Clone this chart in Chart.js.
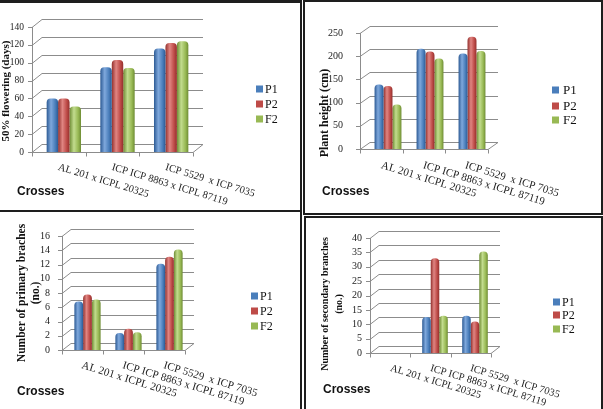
<!DOCTYPE html>
<html>
<head>
<meta charset="utf-8">
<script src="https://cdn.jsdelivr.net/npm/chart.js@4/dist/chart.umd.min.js"></script>
<style>
  body { margin: 0; background: #fff; }
  #page { position: relative; width: 603px; height: 409px; overflow: hidden; background: #fff; }
  .box { position: absolute; box-sizing: border-box; border: 2px solid #1e1e1e; }
  canvas { position: absolute; }
</style>
</head>
<body>
<div id="page">
  <div class="box" style="left:-4px;top:0;width:306px;height:212px;border-top-width:3px"></div>
  <div class="box" style="left:303px;top:0;width:300px;height:215px"></div>
  <div class="box" style="left:-4px;top:210px;width:306px;height:210px"></div>
  <div class="box" style="left:304px;top:216px;width:299px;height:200px"></div>
  <canvas id="c1" width="300" height="206" style="left:0;top:3px"></canvas>
  <canvas id="c2" width="295" height="209" style="left:305px;top:3px"></canvas>
  <canvas id="c3" width="300" height="196" style="left:0;top:213px"></canvas>
  <canvas id="c4" width="294" height="190" style="left:306px;top:219px"></canvas>
</div>
<script>
// data
const crosses = ['AL 201 x ICPL 20325', 'ICP ICP 8863 x ICPL 87119', 'ICP 5529  x ICP 7035'];
const seriesNames = ['P1', 'P2', 'F2'];

const floweringP1 = [60, 95, 116];
const floweringP2 = [60, 103, 122];
const floweringF2 = [51, 94, 124];

const heightP1 = [139, 216, 206];
const heightP2 = [136, 210, 242];
const heightF2 = [96, 195, 211];

const primaryP1 = [6.8, 2.4, 12.1];
const primaryP2 = [7.8, 3.0, 13.1];
const primaryF2 = [7.1, 2.5, 14.1];

const secondaryP1 = [0, 12.5, 13];
const secondaryP2 = [0, 33, 11];
const secondaryF2 = [0, 13, 35.3];

const SERIF = "'Liberation Serif', 'Times New Roman', serif";
const SANS = "'Liberation Sans', Arial, sans-serif";

// office 2007 colours: [dark edge, highlight, base]
const colours = [
  ['#2c5a94', '#7fa8dc', '#4a7ebb'],
  ['#93302d', '#e08582', '#be4b48'],
  ['#6e8c34', '#c2dc8e', '#98b954']
];
const CAT_PCT = 0.64;


// 3d-ish frame, legend, titles and slanted category labels
const decor = {
  id: 'decor',
  beforeDatasetsDraw(chart, args, o) {
    const ctx = chart.ctx;
    const ys = chart.scales.y;
    const { bottom } = chart.chartArea;
    const f = o.frame;
    ctx.save();
    ctx.lineWidth = 1;
    ctx.strokeStyle = '#8c8c8c';
    for (const t of ys.ticks) {
      const y = Math.round(ys.getPixelForValue(t.value)) + 0.5;
      ctx.beginPath();
      ctx.moveTo(f.frontX - 4, y);
      ctx.lineTo(f.frontX, y);
      if (t.value !== 0) {
        ctx.lineTo(f.frontX + f.dx, y - f.dy);
        ctx.lineTo(f.backRight, y - f.dy);
      }
      ctx.stroke();
    }
    // front axis
    ctx.beginPath();
    ctx.moveTo(f.frontX + 0.5, Math.round(ys.getPixelForValue(ys.max)));
    ctx.lineTo(f.frontX + 0.5, Math.round(bottom) + 1);
    ctx.stroke();
    // floor
    const b = Math.round(bottom) + 0.5;
    ctx.beginPath();
    ctx.moveTo(f.frontX, b);
    ctx.lineTo(f.backRight - f.dx, b);
    ctx.lineTo(f.backRight, b - f.dy);
    ctx.lineTo(f.frontX + f.dx, b - f.dy);
    ctx.closePath();
    ctx.stroke();
    // category ticks on the floor edge
    for (let i = 0; i <= crosses.length; i++) {
      const x = Math.round(f.frontX + i * (f.backRight - f.dx - f.frontX) / crosses.length) + 0.5;
      ctx.beginPath();
      ctx.moveTo(x, b);
      ctx.lineTo(x, b + 4);
      ctx.stroke();
    }
    ctx.restore();
  },
  afterDraw(chart, args, o) {
    const ctx = chart.ctx;
    const xs = chart.scales.x;
    const { bottom } = chart.chartArea;
    ctx.save();
    ctx.fillStyle = '#111';

    // y title
    ctx.font = 'bold ' + o.yTitle.size + 'px ' + SERIF;
    ctx.textAlign = 'center';
    ctx.textBaseline = 'middle';
    o.yTitle.lines.forEach((line, i) => {
      ctx.save();
      ctx.translate(o.yTitle.xs[i], o.yTitle.y);
      ctx.rotate(-Math.PI / 2);
      ctx.fillText(line, 0, 0);
      ctx.restore();
    });

    // slanted category labels
    ctx.font = o.xLabels.size + 'px ' + SERIF;
    ctx.textAlign = 'left';
    ctx.textBaseline = 'top';
    ctx.fillStyle = '#222';
    chart.data.labels.forEach((label, i) => {
      ctx.save();
      ctx.translate(xs.getPixelForValue(i) + o.xLabels.ox, bottom + o.xLabels.oy);
      ctx.rotate(17 * Math.PI / 180);
      ctx.fillText(label, 0, 0);
      ctx.restore();
    });

    // "Crosses"
    ctx.fillStyle = '#111';
    ctx.font = 'bold 12px ' + SANS;
    ctx.textBaseline = 'alphabetic';
    ctx.fillText('Crosses', o.crosses.x, o.crosses.y);

    // legend
    ctx.font = o.legend.size + 'px ' + SERIF;
    ctx.textBaseline = 'middle';
    chart.data.datasets.forEach((ds, i) => {
      const cy = o.legend.ys[i];
      ctx.fillStyle = colours[i][2];
      ctx.fillRect(o.legend.x, cy - 3.5, 7, 7);
      ctx.fillStyle = '#111';
      ctx.fillText(ds.label, o.legend.textX, cy + 0.5);
    });
    ctx.restore();
  }
};


function barFill(i) {
  return (c) => {
    const chart = c.chart;
    const xs = chart.scales.x;
    if (!xs || !chart.chartArea || c.dataIndex === undefined) return colours[i][2];
    const catW = (xs.right - xs.left) / crosses.length;
    const bw = catW * CAT_PCT / seriesNames.length;
    const cx = xs.getPixelForValue(c.dataIndex) + (i - 1) * bw;
    const g = chart.ctx.createLinearGradient(cx - bw / 2, 0, cx + bw / 2, 0);
    g.addColorStop(0, colours[i][0]);
    g.addColorStop(0.38, colours[i][1]);
    g.addColorStop(0.75, colours[i][2]);
    g.addColorStop(1, colours[i][0]);
    return g;
  };
}


function makeChart(id, p) {
  const canvas = document.getElementById(id);
  return new Chart(canvas.getContext('2d'), {
    type: 'bar',
    data: {
      labels: crosses,
      datasets: p.series.map((values, i) => ({
        label: seriesNames[i],
        data: values,
        backgroundColor: barFill(i),
        borderWidth: 0,
        borderRadius: { topLeft: 4, topRight: 4 },
        borderSkipped: 'start',
        barPercentage: 1,
        categoryPercentage: CAT_PCT
      }))
    },
    options: {
      responsive: false,
      animation: false,
      devicePixelRatio: 1,
      layout: {
        padding: {
          left: 0,
          top: p.area.top,
          right: canvas.width - p.area.right,
          bottom: canvas.height - p.area.bottom
        }
      },
      scales: {
        x: {
          ticks: { display: false },
          grid: { display: false, drawTicks: false },
          border: { display: false },
          afterFit: (s) => { s.height = 0; }
        },
        y: {
          min: 0,
          max: p.max,
          ticks: {
            stepSize: p.step,
            autoSkip: false,
            padding: p.tickPad,
            color: '#222',
            font: { family: SERIF, size: p.tickSize }
          },
          grid: { display: false, drawTicks: false },
          border: { display: false },
          afterFit: (s) => { s.width = p.area.left; }
        }
      },
      plugins: {
        legend: { display: false },
        tooltip: { enabled: false },
        decor: p.decor
      }
    },
    plugins: [decor]
  });
}


makeChart('c1', {
  series: [floweringP1, floweringP2, floweringF2],
  max: 140, step: 20, tickPad: 13, tickSize: 9.5,
  area: { left: 37, right: 198, top: 24, bottom: 149 },
  decor: {
    frame: { frontX: 32, backRight: 203, dx: 10, dy: 8 },
    yTitle: { lines: ['50% flowering (days)'], xs: [6], y: 88, size: 11 },
    xLabels: { size: 10.5, ox: -4, oy: 10 },
    crosses: { x: 17, y: 192 },
    legend: { x: 256, textX: 265, ys: [86, 101, 116], size: 12 }
  }
});

makeChart('c2', {
  series: [heightP1, heightP2, heightF2],
  max: 250, step: 50, tickPad: 24, tickSize: 10,
  area: { left: 62, right: 188, top: 22, bottom: 146 },
  decor: {
    frame: { frontX: 55, backRight: 193, dx: 10, dy: 7 },
    yTitle: { lines: ['Plant height (cm)'], xs: [20], y: 110, size: 12 },
    xLabels: { size: 11, ox: -5, oy: 11 },
    crosses: { x: 17, y: 192 },
    legend: { x: 247, textX: 258, ys: [87, 103, 117], size: 13 }
  }
});

makeChart('c3', {
  series: [primaryP1, primaryP2, primaryF2],
  max: 16, step: 2, tickPad: 17, tickSize: 10,
  area: { left: 67, right: 190, top: 20, bottom: 137 },
  decor: {
    frame: { frontX: 62, backRight: 194, dx: 9, dy: 7 },
    yTitle: { lines: ['Number of primary braches', '(no.)'], xs: [22, 36], y: 80, size: 11.5 },
    xLabels: { size: 11, ox: -4, oy: 10 },
    crosses: { x: 17, y: 182 },
    legend: { x: 251, textX: 260, ys: [83, 98, 113], size: 12 }
  }
});

makeChart('c4', {
  series: [secondaryP1, secondaryP2, secondaryF2],
  max: 40, step: 5, tickPad: 13, tickSize: 10,
  area: { left: 69, right: 189, top: 19, bottom: 134 },
  decor: {
    frame: { frontX: 64, backRight: 194, dx: 9, dy: 7 },
    yTitle: { lines: ['Number of secondary branches', '(no.)'], xs: [19, 33], y: 85, size: 10 },
    xLabels: { size: 10.5, ox: -3, oy: 10 },
    crosses: { x: 17, y: 174 },
    legend: { x: 247, textX: 256, ys: [83, 96, 110], size: 12 }
  }
});
</script>
</body>
</html>
